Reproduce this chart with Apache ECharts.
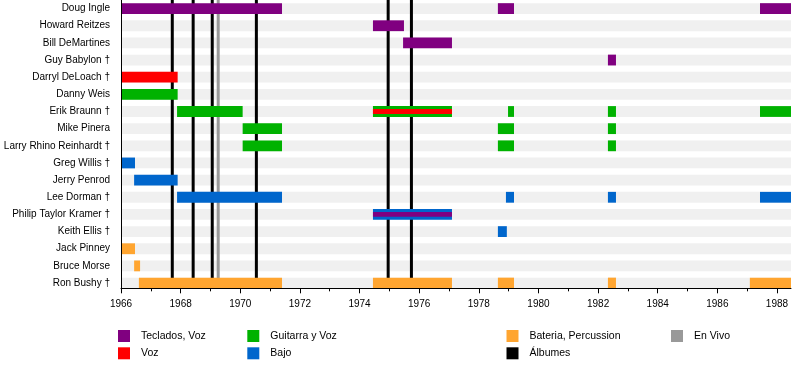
<!DOCTYPE html>
<html><head><meta charset="utf-8">
<script src="https://cdn.jsdelivr.net/npm/echarts@6/dist/echarts.min.js"></script>
<style>html,body{margin:0;padding:0;background:#fff}#c{width:800px;height:368px}</style>
</head><body><div id="c"></div>
<script>
const members = ["Doug Ingle","Howard Reitzes","Bill DeMartines","Guy Babylon †","Darryl DeLoach †","Danny Weis","Erik Braunn †","Mike Pinera","Larry Rhino Reinhardt †","Greg Willis †","Jerry Penrod","Lee Dorman †","Philip Taylor Kramer †","Keith Ellis †","Jack Pinney","Bruce Morse","Ron Bushy †"];

const tecladosVoz = [
  ["Doug Ingle",1966,1971.4],["Doug Ingle",1978.64,1979.18],["Doug Ingle",1987.43,1988.47],
  ["Howard Reitzes",1974.45,1975.49],["Bill DeMartines",1975.46,1977.1],["Guy Babylon †",1982.33,1982.6]
];
const voz = [["Darryl DeLoach †",1966,1967.9]];
const guitarraVoz = [
  ["Danny Weis",1966,1967.9],
  ["Erik Braunn †",1967.88,1970.08],["Erik Braunn †",1974.45,1977.1],["Erik Braunn †",1978.98,1979.18],["Erik Braunn †",1982.33,1982.6],["Erik Braunn †",1987.43,1988.47],
  ["Mike Pinera",1970.08,1971.4],["Mike Pinera",1978.64,1979.18],["Mike Pinera",1982.33,1982.6],
  ["Larry Rhino Reinhardt †",1970.08,1971.4],["Larry Rhino Reinhardt †",1978.64,1979.18],["Larry Rhino Reinhardt †",1982.33,1982.6]
];
const bajo = [
  ["Greg Willis †",1966,1966.47],["Jerry Penrod",1966.44,1967.9],
  ["Lee Dorman †",1967.88,1971.4],["Lee Dorman †",1978.91,1979.18],["Lee Dorman †",1982.33,1982.6],["Lee Dorman †",1987.43,1988.47],
  ["Philip Taylor Kramer †",1974.45,1977.1],["Keith Ellis †",1978.64,1978.94]
];
const bateria = [
  ["Jack Pinney",1966,1966.47],["Bruce Morse",1966.44,1966.64],
  ["Ron Bushy †",1966.6,1971.4],["Ron Bushy †",1974.45,1977.1],["Ron Bushy †",1978.64,1979.18],["Ron Bushy †",1982.33,1982.6],["Ron Bushy †",1987.09,1988.47]
];
const vozStripe = [["Erik Braunn †",1974.45,1977.1]];
const tecladosStripe = [["Philip Taylor Kramer †",1974.45,1977.1]];
const albumes = [1967.72,1968.42,1969.06,1970.54,1974.96,1975.74];
const enVivo = [1969.26];
const majorYears = [1966,1968,1970,1972,1974,1976,1978,1980,1982,1984,1986,1988];
const minorYears = [1967,1969,1971,1973,1975,1977,1979,1981,1983,1985,1987];
const xMin = 1966, xMax = 1988.47;

const AXIS_OFFSET = -3.3;
const FONT = 'Liberation Sans';
const toData = arr => arr.map(d => [members.indexOf(d[0]), d[1], d[2]]);

function barRender(ratio){
  return function(params, api){
    const y = api.value(0);
    const s = api.coord([api.value(1), y]);
    const e = api.coord([api.value(2), y]);
    const h = api.size([0,1])[1] * ratio;
    return {type:'rect', shape:{x:s[0], y:s[1]-h/2, width:e[0]-s[0], height:h}, style:{fill:api.visual('color')}};
  };
}
function stripeRender(params, api){
  const y = api.value(0);
  const c = api.coord([xMin, y]);
  const h = api.size([0,1])[1] * 0.63;
  const cs = params.coordSys;
  return {type:'rect', shape:{x:cs.x, y:c[1]-h/2, width:cs.width, height:h}, style:{fill:'#f0f0f0'}};
}
function lineRender(params, api){
  const x = api.coord([api.value(0), 0])[0];
  const cs = params.coordSys;
  return {type:'line', shape:{x1:x, y1:cs.y, x2:x, y2:cs.y+cs.height+AXIS_OFFSET}, style:{stroke:api.visual('color'), lineWidth:3}};
}
function barSeries(name, color, arr, ratio, z){
  return {type:'custom', name:name, renderItem:barRender(ratio), itemStyle:{color:color},
    encode:{x:[1,2], y:0}, data:toData(arr), z:z, silent:true, clip:false};
}
function lineSeries(name, color, arr){
  return {type:'custom', name:name, renderItem:lineRender, itemStyle:{color:color},
    encode:{x:0, y:1}, data:arr.map(v => [v, 0]), z:2, silent:true, clip:false};
}
function legendAt(name, left, top){
  return {data:[name], left:left, top:top, padding:0, itemWidth:12, itemHeight:12, icon:'rect',
    selectedMode:false, itemStyle:{borderWidth:0},
    textStyle:{fontFamily:FONT, fontSize:10.5, color:'#000', padding:[0,0,0,6]}};
}

const chart = echarts.init(document.getElementById('c'), null, {renderer:'canvas'});
chart.setOption({
  animation:false,
  backgroundColor:'#fff',
  grid:{left:121, right:9, top:-2.14, height:293.76},
  xAxis:[
    {type:'value', min:xMin, max:xMax, position:'bottom', offset:AXIS_OFFSET, z:10,
     axisLine:{show:true, lineStyle:{color:'#000', width:1}},
     axisTick:{show:true, customValues:majorYears, length:5, lineStyle:{color:'#000'}},
     axisLabel:{customValues:majorYears, fontFamily:FONT, fontSize:10, color:'#000', margin:11, formatter:v => String(v)},
     splitLine:{show:false}},
    {type:'value', min:xMin, max:xMax, position:'bottom', offset:AXIS_OFFSET, z:10,
     axisLine:{show:false},
     axisTick:{show:true, customValues:minorYears, length:3, lineStyle:{color:'#000'}},
     axisLabel:{show:false}, splitLine:{show:false}}
  ],
  yAxis:{type:'category', data:members, inverse:true, z:10,
    axisLine:{show:true, lineStyle:{color:'#000', width:1}},
    axisTick:{show:false},
    axisLabel:{fontFamily:FONT, fontSize:10, color:'#000', margin:11},
    splitLine:{show:false}},
  legend:[
    legendAt('Teclados, Voz',118,330),
    legendAt('Voz',118,347.3),
    legendAt('Guitarra y Voz',247.3,330),
    legendAt('Bajo',247.3,347.3),
    legendAt('Bateria, Percussion',506.5,330),
    legendAt('Álbumes',506.5,347.3),
    legendAt('En Vivo',671,330)
  ],
  series:[
    {type:'custom', name:'bg', renderItem:stripeRender, encode:{x:-1, y:0}, data:members.map((m,i)=>[i]), z:1, silent:true},
    lineSeries('Álbumes','#000000',albumes),
    lineSeries('En Vivo','#999999',enVivo),
    barSeries('Teclados, Voz','#800080',tecladosVoz,0.63,3),
    barSeries('Voz','#ff0000',voz,0.63,3),
    barSeries('Guitarra y Voz','#00b200',guitarraVoz,0.63,3),
    barSeries('Bajo','#0066cc',bajo,0.63,3),
    barSeries('Bateria, Percussion','#ffa530',bateria,0.63,3),
    barSeries('Voz','#ff0000',vozStripe,0.3,4),
    barSeries('Teclados, Voz','#800080',tecladosStripe,0.27,4)
  ]
});
</script></body></html>
